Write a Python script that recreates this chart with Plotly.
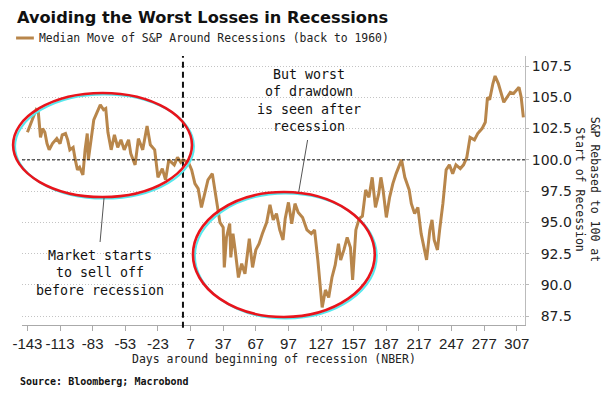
import plotly.graph_objects as go

# ---- data ----
days = [-143, -135, -133, -131, -129, -127, -125, -123, -120, -116, -113, -111, -108, -106, -104,
        -101, -99, -97, -95, -92, -90, -88, -87, -84, -82, -79, -76, -73, -71, -69, -66, -63, -60,
        -57, -54, -50, -48, -44, -41, -37, -33, -30, -26, -23, -19, -16, -13, -8, -5, -2, 0, 5, 8,
        11, 14, 17, 20, 23, 27, 29, 31, 34, 37, 38, 40, 43, 44, 46, 48, 51, 54, 57, 61, 64, 67, 70,
        73, 77, 80, 83, 86, 89, 92, 94, 97, 100, 103, 106, 110, 114, 118, 121, 124, 126, 128, 131,
        134, 137, 140, 143, 145, 148, 151, 154, 156, 159, 162, 165, 168, 171, 174, 177, 180, 182,
        184, 187, 190, 193, 196, 201, 204, 208, 210, 213, 216, 219, 222, 224, 227, 229, 231, 234,
        236, 239, 242, 245, 248, 251, 255, 258, 261, 264, 268, 271, 275, 278, 280, 282, 285, 287,
        290, 293, 295, 298, 301, 304, 307, 309, 311, 313]
spx = [102.2, 104.0, 103.8, 101.8, 102.5, 102.2, 101.3, 100.8, 101.3, 101.7, 101.3, 102.0, 102.1,
       101.6, 100.8, 101.0, 100.0, 99.2, 99.4, 98.8, 100.8, 102.1, 100.0, 101.8, 103.2, 103.8, 104.4,
       104.0, 104.1, 102.2, 100.8, 102.0, 101.0, 101.6, 100.8, 101.6, 100.5, 99.6, 101.7, 100.8,
       102.7, 101.2, 100.8, 98.6, 99.3, 98.4, 100.0, 99.6, 100.2, 99.8, 100.0, 99.8, 99.2, 98.1,
       97.7, 96.2, 97.3, 98.4, 98.9, 97.8, 96.5, 95.0, 94.6, 91.4, 93.8, 94.9, 92.2, 94.1, 92.8,
       90.6, 91.7, 90.9, 93.7, 91.4, 92.8, 93.3, 94.1, 95.0, 96.4, 95.2, 95.7, 94.4, 93.6, 95.3,
       96.6, 94.9, 96.5, 95.8, 95.4, 94.4, 94.1, 94.4, 92.0, 90.1, 88.2, 89.6, 89.0, 90.6, 91.6,
       93.3, 92.0, 92.8, 93.8, 93.0, 90.4, 94.4, 95.3, 95.5, 97.6, 97.0, 98.6, 96.2, 97.3, 98.6,
       97.6, 95.4, 97.0, 98.1, 98.9, 100.0, 98.6, 97.6, 96.5, 95.7, 96.2, 94.1, 92.8, 92.0, 94.4,
       95.2, 93.6, 92.8, 94.4, 96.5, 99.2, 99.6, 98.9, 99.6, 99.3, 99.6, 100.2, 101.8, 101.6,
       102.1, 102.5, 103.0, 105.0, 104.8, 106.1, 106.7, 106.1, 105.3, 104.6, 105.0, 105.4, 105.3,
       105.6, 105.8, 105.0, 103.4]

x_ticks = [-143, -113, -83, -53, -23, 7, 37, 67, 97, 127, 157, 187, 217, 247, 277, 307]
y_ticks = [87.5, 90.0, 92.5, 95.0, 97.5, 100.0, 102.5, 105.0, 107.5]
y_tick_labels = ["\u200787.5", "\u200790.0", "\u200792.5", "\u200795.0", "\u200797.5",
                 "100.0", "102.5", "105.0", "107.5"]

series_name = "Median Move of S&P Around Recessions (back to 1960)"
line_color = "#b8864b"
mono = "DejaVu Sans Mono"

# ---- layout geometry (pixels) ----
W, H = 615, 399
L, R, T, B = 16, 525, 56, 325


def xp(px):
    return (px - L) / (R - L)


def yp(py):
    return (B - py) / (B - T)


fig = go.Figure()
fig.add_trace(go.Scatter(x=days, y=spx, mode="lines", name=series_name,
                         line=dict(color=line_color, width=3), showlegend=False))

shapes = []
# reference line at 100 and at day 0
shapes.append(dict(type="line", xref="paper", yref="y", x0=0, x1=1, y0=100, y1=100,
                   line=dict(color="#111", width=1, dash="3px,2px")))
shapes.append(dict(type="line", xref="x", yref="paper", x0=0, x1=0, y0=-0.01, y1=1,
                   line=dict(color="#111", width=2, dash="6px,4px")))
# legend sample
shapes.append(dict(type="line", xref="paper", yref="paper", x0=xp(10), x1=xp(28),
                   y0=yp(38), y1=yp(38), line=dict(color=line_color, width=3)))
# ellipses (cyan shadow then red)
for (a, b, c, d) in [(7, 93, 188, 197), (189, 192, 373, 317)]:
    shapes.append(dict(type="circle", xref="paper", yref="paper",
                       x0=xp(a + 2), x1=xp(c + 2), y0=yp(d + 1.5), y1=yp(b + 1.5),
                       line=dict(color="#55e8ee", width=2)))
    shapes.append(dict(type="circle", xref="paper", yref="paper",
                       x0=xp(a), x1=xp(c), y0=yp(d), y1=yp(b),
                       line=dict(color="#e8141c", width=2.6)))
# connectors
shapes.append(dict(type="line", xref="paper", yref="paper", x0=xp(99), x1=xp(95),
                   y0=yp(198), y1=yp(242), line=dict(color="#555", width=1)))
shapes.append(dict(type="line", xref="paper", yref="paper", x0=xp(305), x1=xp(296),
                   y0=yp(140), y1=yp(192), line=dict(color="#555", width=1)))

annotations = [
    dict(text="<b>Avoiding the Worst Losses in Recessions</b>", x=xp(9), y=yp(17),
         xanchor="left", yanchor="middle",
         font=dict(family="DejaVu Sans", size=16.2, color="#111")),
    dict(text=series_name, x=xp(31), y=yp(37.5), xanchor="left", yanchor="middle",
         font=dict(family=mono, size=11.4, color="#222")),
    dict(text="Days around beginning of recession (NBER)", x=0.5, y=yp(359),
         xanchor="center", yanchor="middle", font=dict(family=mono, size=11.5, color="#222")),
    dict(text="<b>Source: Bloomberg; Macrobond</b>", x=xp(12), y=yp(381),
         xanchor="left", yanchor="middle", font=dict(family=mono, size=10, color="#111")),
    dict(text="S&P Rebased to 100 at<br>Start of Recession", x=xp(589), y=yp(189),
         xanchor="center", yanchor="middle", textangle=90,
         font=dict(family=mono, size=11.5, color="#222")),
    dict(text="But worst<br>of drawdown<br>is seen after<br>recession", x=xp(306), y=yp(100),
         xanchor="center", yanchor="middle", font=dict(family=mono, size=13.3, color="#111")),
    dict(text="Market starts<br>to sell off<br>before recession", x=xp(95), y=yp(272.5),
         xanchor="center", yanchor="middle", font=dict(family=mono, size=13.3, color="#111")),
]
for a in annotations:
    a.update(xref="paper", yref="paper", showarrow=False)

fig.update_layout(
    width=W, height=H,
    margin=dict(l=L, r=W - R, t=T, b=H - B, pad=0),
    paper_bgcolor="white", plot_bgcolor="white",
    shapes=shapes, annotations=annotations,
    showlegend=False,
    xaxis=dict(range=[-148, 314.5], tickvals=x_ticks, ticktext=[str(v) for v in x_ticks],
               showgrid=False, zeroline=False, showline=True, linecolor="#aaa", linewidth=1,
               ticks="outside", ticklen=5, tickcolor="#aaa",
               tickfont=dict(family="Liberation Sans", size=15, color="#222")),
    yaxis=dict(range=[86.8, 108.3], side="right", tickvals=y_ticks, ticktext=y_tick_labels,
               showgrid=True, gridcolor="#c4c4c4", griddash="1px,2px", gridwidth=1,
               zeroline=False, showline=True, linecolor="#bbb", linewidth=1,
               ticks="outside", ticklen=3, tickcolor="#bbb",
               tickfont=dict(family="DejaVu Sans", size=14, color="#222")),
)

fig.write_html("out.html", config={"displayModeBar": False},
               post_script="document.body.style.margin='0';document.body.style.padding='0';")
